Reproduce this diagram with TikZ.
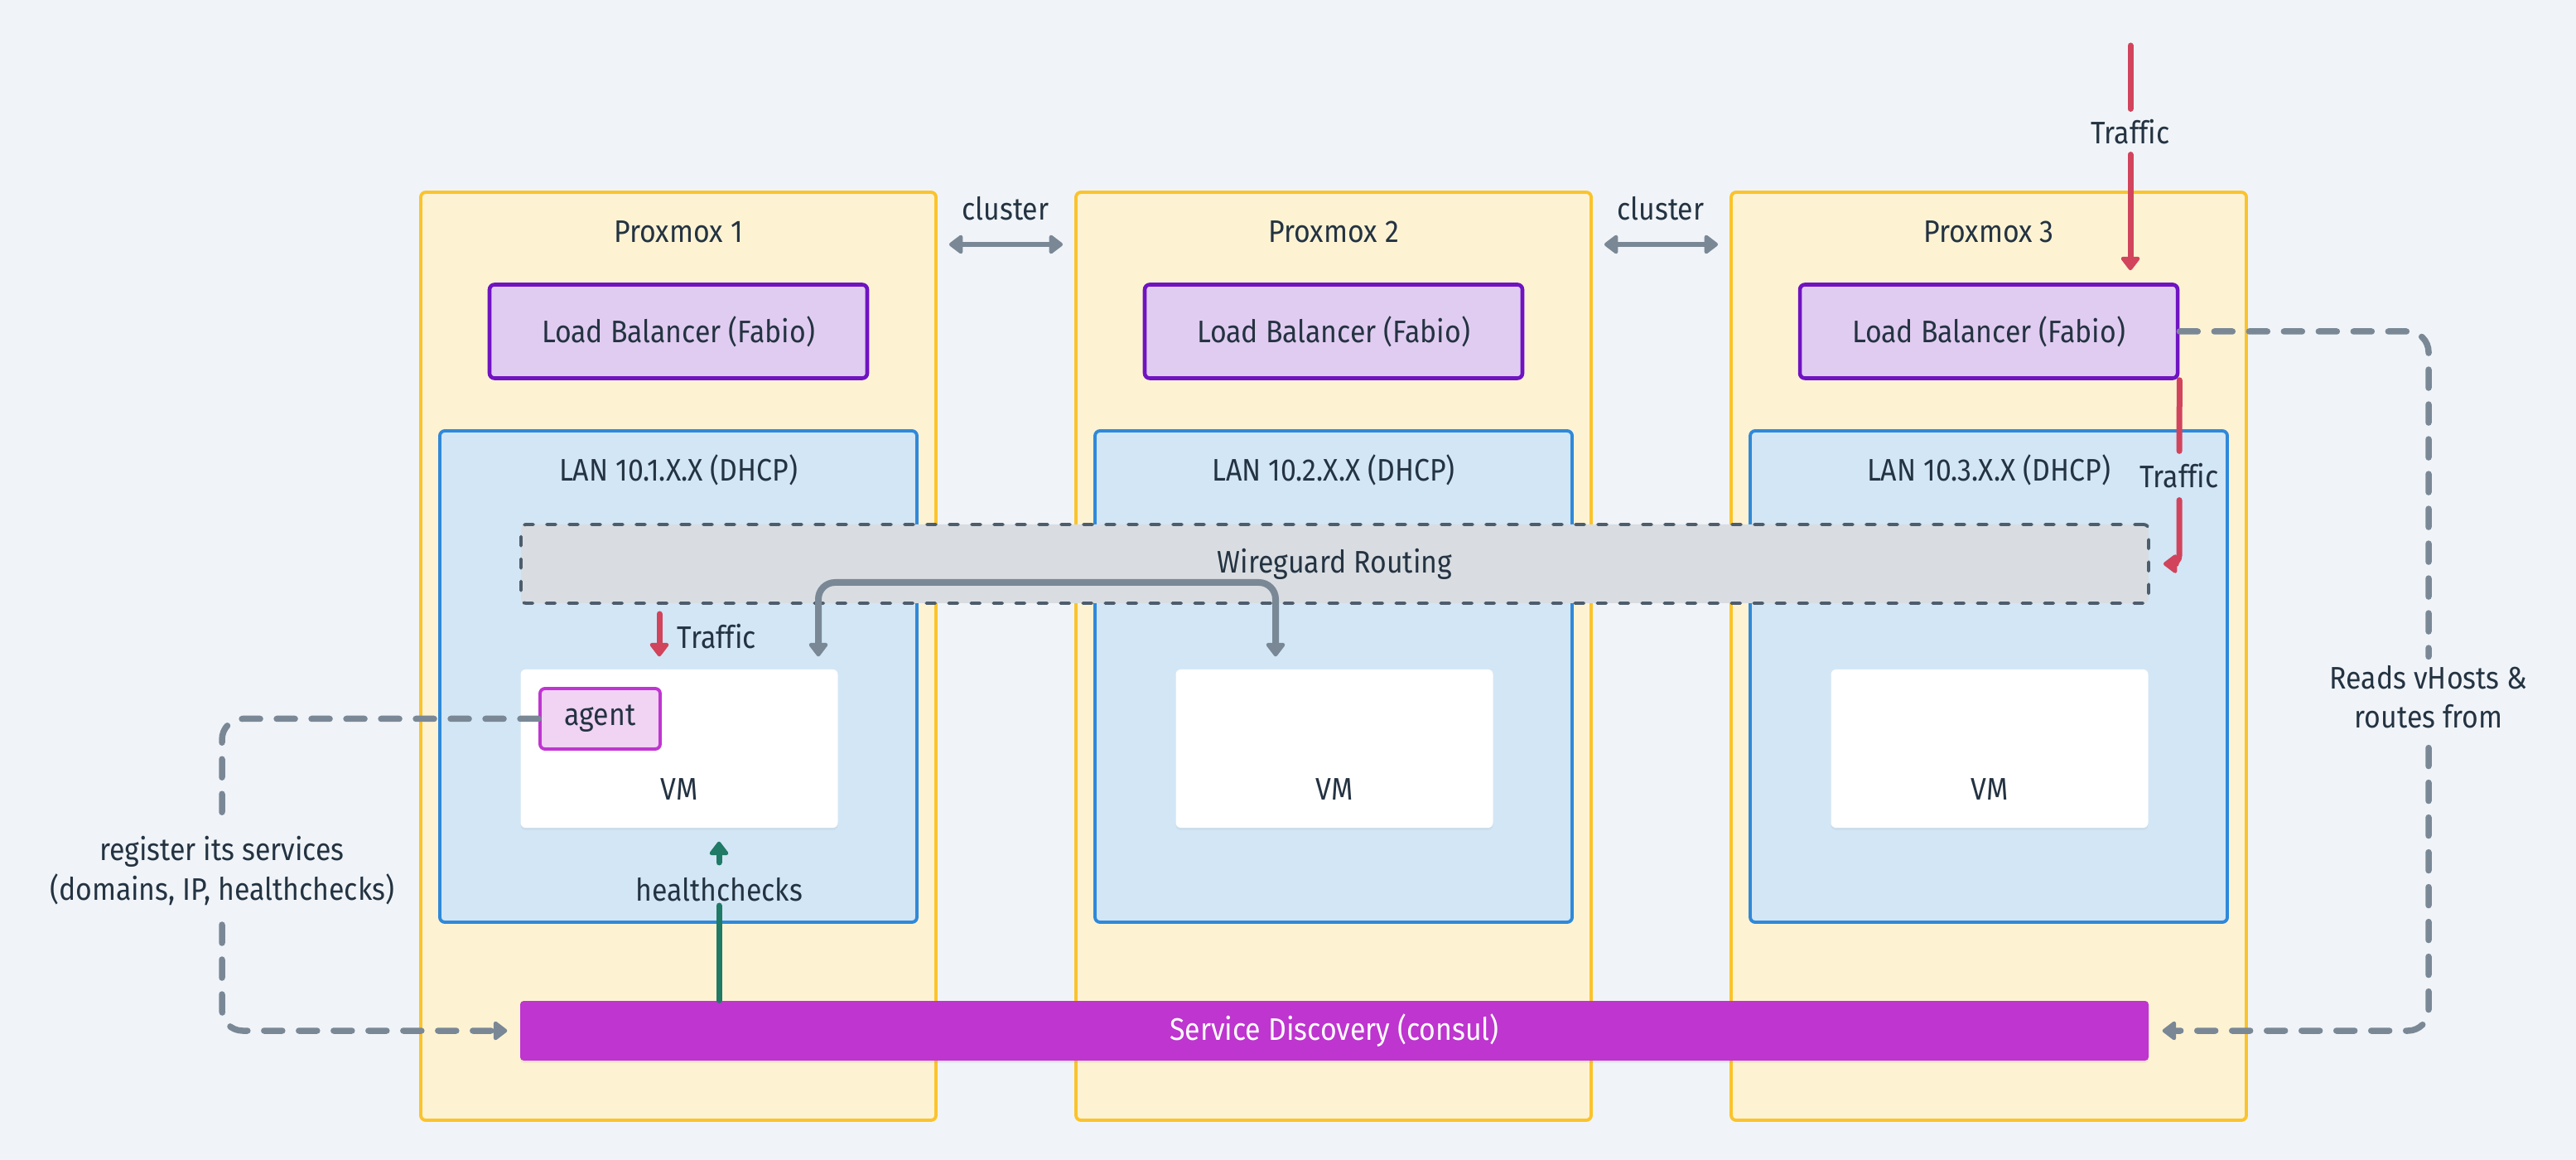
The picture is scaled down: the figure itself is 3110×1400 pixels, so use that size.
\documentclass[tikz,border=0pt]{standalone}
\usepackage{fontspec}
\setmainfont{Fira Sans}[FakeStretch=0.9,Ligatures=CommonOff]
\usetikzlibrary{arrows.meta,shadows}
\definecolor{bgc}{HTML}{F0F4F8}
\definecolor{txtc}{HTML}{243342}
\definecolor{hostc}{HTML}{FBC32C}
\definecolor{hostf}{HTML}{FDF3D3}
\definecolor{lbc}{HTML}{7013C2}
\definecolor{lbf}{HTML}{E1CCF1}
\definecolor{lanc}{HTML}{2F89DA}
\definecolor{lanf}{HTML}{D2E6F6}
\definecolor{wgc}{HTML}{4E5D6C}
\definecolor{wgf}{HTML}{D9DDE1}
\definecolor{agc}{HTML}{C035D1}
\definecolor{agf}{HTML}{F1D3F4}
\definecolor{sdf}{HTML}{BE35CF}
\definecolor{grayc}{HTML}{7A8896}
\definecolor{redc}{HTML}{D1445C}
\definecolor{greenc}{HTML}{1F7A66}
\begin{document}
\begin{tikzpicture}[x=0.1mm,y=-0.1mm,line join=round,line cap=round,
    font=\fontsize{10.7}{13.4}\selectfont,text=txtc,
    >={Triangle[width=2.6mm,length=1.8mm,round]},
    host/.style={draw=hostc,fill=hostf,line width=1.1pt,rounded corners=1.7pt,
        minimum width=62.2mm,minimum height=112mm,inner sep=0pt},
    lbbox/.style={draw=lbc,fill=lbf,line width=1.3pt,rounded corners=1.7pt,
        minimum width=45.6mm,minimum height=11.3mm,inner sep=0pt},
    lanbox/.style={draw=lanc,fill=lanf,line width=1.1pt,rounded corners=1.7pt,
        minimum width=57.6mm,minimum height=59.3mm,inner sep=0pt},
    vmbox/.style={fill=white,rounded corners=1.7pt,minimum width=38.3mm,minimum height=19.1mm,
        inner sep=0pt,drop shadow={opacity=0.08,shadow xshift=0pt,shadow yshift=-0.8pt}},
    lbl/.style={inner sep=1.3mm},
    clarr/.style={<->,draw=grayc,line width=0.65mm,shorten <=1.4mm,shorten >=1.4mm},
    redarr/.style={->,draw=redc,line width=0.7mm},
    regarr/.style={->,draw=grayc,line width=0.75mm,dash pattern=on 2.2mm off 2.0mm,rounded corners=2.5mm},
]
\useasboundingbox[fill=bgc] (0,0) rectangle (3110,1400);
% hosts
\foreach \i/\cx in {1/819,2/1610,3/2401}{
    \node[host] (px\i) at (\cx,792) {};
    \node (pxt\i) at (\cx,280) {Proxmox \i};
    \node[lbbox] (lb\i) at (\cx,400) {Load Balancer (Fabio)};
    \node[lanbox] (lan\i) at (\cx,816.5) {};
    \node (lant\i) at (\cx,567) {LAN 10.\i.X.X (DHCP)};
}
% cluster links
\node (cl1) at (1214,252) {cluster};
\node (cl2) at (2005,252) {cluster};
\coordinate (ca1) at (1214,295);
\coordinate (ca2) at (2005,295);
\draw[clarr] (px1.east |- ca1) -- (px2.west |- ca1);
\draw[clarr] (px2.east |- ca2) -- (px3.west |- ca2);
% wireguard
\node[draw=wgc,fill=wgf,line width=1.1pt,dash pattern=on 1.1mm off 1.6mm,rounded corners=1.7pt,
    minimum width=196.5mm,minimum height=9.5mm,inner sep=0pt] (wg) at (1611.5,680.5) {Wireguard Routing};
% vms
\foreach \i/\cx in {1/820,2/1611,3/2402}{
    \node[vmbox] (vm\i) at (\cx,903.5) {};
    \node (vmt\i) at (\cx,953) {VM};
}
\node[draw=agc,fill=agf,line width=1.1pt,rounded corners=1.7pt,minimum width=14.5mm,
    minimum height=7.3mm,inner sep=0pt] (agent) at (724.5,867.5) {agent};
% service discovery
\node[fill=sdf,text=white,rounded corners=1.2pt,minimum width=196.6mm,minimum height=7.2mm,inner sep=0pt,
    drop shadow={opacity=0.1,shadow xshift=0pt,shadow yshift=-0.8pt}] (sd) at (1611,1244) {Service Discovery (consul)};
% traffic
\coordinate (tin) at (2572,55);
\node[lbl,inner sep=1.2mm] (trA) at (2572,159) {Traffic};
\draw[redarr,shorten >=1.5mm] (tin) -- (trA) -- (lb3.north -| tin);
\node[lbl,inner sep=1.4mm] (trB) at (2631,574) {Traffic};
\draw[redarr,rounded corners=1mm,shorten >=1.6mm] (lb3.south east) -- (trB) |- (wg.east);
\coordinate (trc) at (796,741);
\draw[redarr,shorten >=1.5mm] (trc) -- (trc |- vm1.north);
\node[anchor=west,inner sep=0pt] (trC) at (817,768) {Traffic};
% routing between vms
\coordinate (gwA) at (988,703);
\coordinate (gwB) at (1540,703);
\draw[<->,draw=grayc,line width=0.8mm,rounded corners=2mm,shorten <=1.5mm,shorten >=1.5mm]
    (gwA |- vm1.north) -- (gwA) -- (gwB) -- (gwB |- vm2.north);
% healthchecks
\coordinate (hc) at (868,1100);
\node[lbl,inner xsep=1.3mm,inner ysep=0.4mm] (hcl) at (868,1074) {healthchecks};
\draw[->,draw=greenc,line width=0.7mm,shorten <=1.4mm,shorten >=1.6mm] (hc |- sd.north) -- (hcl) -- (hc |- vm1.south);
% registration and routes
\node[lbl,align=center,inner sep=1mm] (reg) at (268,1051) {register its services\\(domains, IP, healthchecks)};
\draw[regarr,shorten <=1.3mm,shorten >=1.5mm] (agent.west) -| (reg) |- (sd.west);
\node[lbl,align=center,inner sep=1mm] (rds) at (2932,841) {Reads vHosts \&\\routes from};
\draw[regarr,shorten <=1.3mm,shorten >=1.6mm] (lb3.east) -| (rds) |- (sd.east);
\end{tikzpicture}
\end{document}
